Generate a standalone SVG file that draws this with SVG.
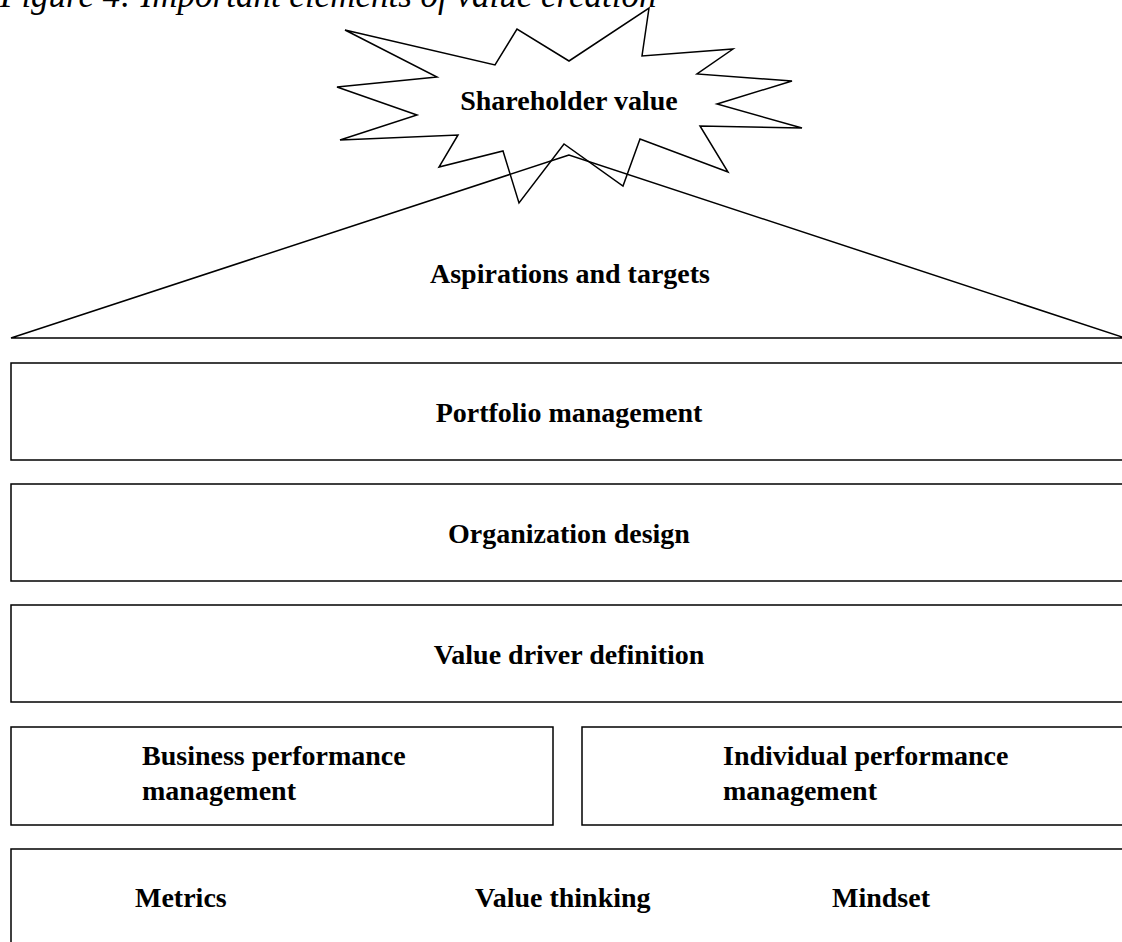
<svg xmlns="http://www.w3.org/2000/svg" width="1122" height="942" viewBox="0 0 1122 942">
<style>
.shape{fill:none;stroke:#000;stroke-width:1.5}
.box{fill:#fff;stroke:#000;stroke-width:1.5}
.lbl{font-family:"Liberation Serif","Times New Roman",serif;font-weight:bold;font-size:28px;fill:#000}
.mid{text-anchor:middle}
.title{font-family:"Liberation Serif","Times New Roman",serif;font-style:italic;font-size:35px;fill:#000}
</style>
<rect width="1122" height="942" fill="#fff"/>
<text class="title" x="0" y="7">Figure 4: Important elements of value creation</text>
<g id="shareholder-value">
<polygon class="shape" points="345,30 495,65 517,29 569,61 649,8 642,56 733,49 697,74 792,81 717,104 802,128 700,126 728,172 640,139 623,186 564,144 519,203 503,151 439,167 458,135 340,140 417,115 337,87 437,77"/>
<text class="lbl mid" x="569" y="110">Shareholder value</text>
</g>
<g id="aspirations">
<polygon class="shape" points="569,155 11,338 1125,338"/>
<text class="lbl mid" x="570" y="283">Aspirations and targets</text>
</g>
<g id="portfolio">
<rect class="box" x="11" y="363" width="1125" height="97"/>
<text class="lbl mid" x="569" y="422">Portfolio management</text>
</g>
<g id="organization">
<rect class="box" x="11" y="484" width="1125" height="97"/>
<text class="lbl mid" x="569" y="543">Organization design</text>
</g>
<g id="value-driver">
<rect class="box" x="11" y="605" width="1125" height="97"/>
<text class="lbl mid" x="569" y="664">Value driver definition</text>
</g>
<g id="business-performance">
<rect class="box" x="11" y="727" width="542" height="98"/>
<text class="lbl" x="142" y="765">Business performance</text>
<text class="lbl" x="142" y="800">management</text>
</g>
<g id="individual-performance">
<rect class="box" x="582" y="727" width="554" height="98"/>
<text class="lbl" x="723" y="765">Individual performance</text>
<text class="lbl" x="723" y="800">management</text>
</g>
<g id="foundation">
<rect class="box" x="11" y="849" width="1125" height="110"/>
<text class="lbl" x="135" y="907">Metrics</text>
<text class="lbl" x="475" y="907">Value thinking</text>
<text class="lbl" x="832" y="907">Mindset</text>
</g>
<g id="connectors"></g>
</svg>
